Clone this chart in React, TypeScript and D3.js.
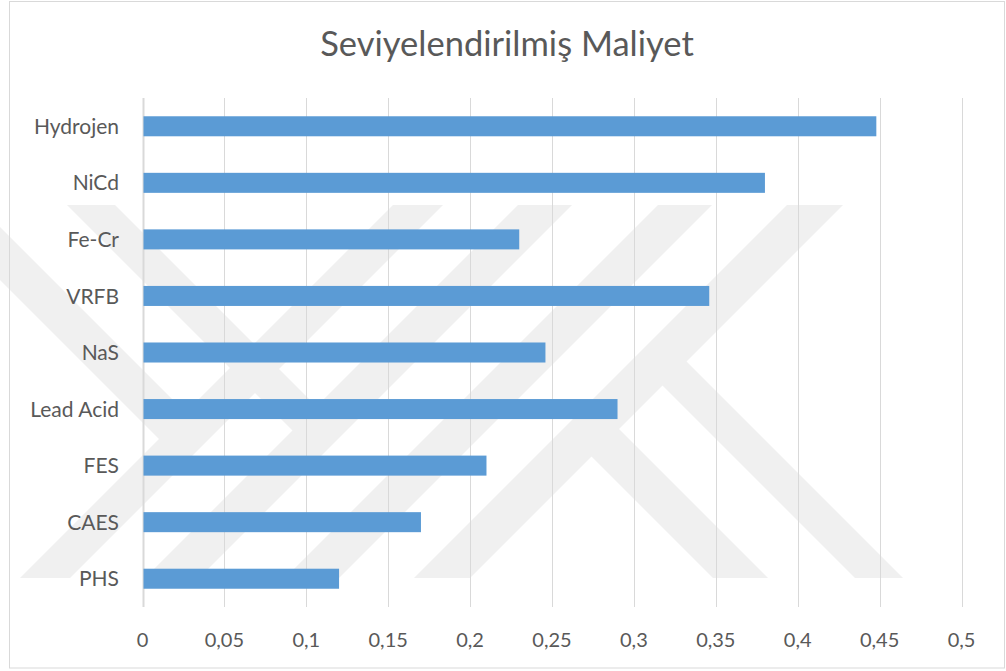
import React from "react";
import * as d3 from "d3";

const title = "Seviyelendirilmiş Maliyet";
const categories = ["Hydrojen", "NiCd", "Fe-Cr", "VRFB", "NaS", "Lead Acid", "FES", "CAES", "PHS"];
const values = [0.448, 0.38, 0.23, 0.346, 0.246, 0.29, 0.21, 0.17, 0.12];
const tickValues = [0, 0.05, 0.1, 0.15, 0.2, 0.25, 0.3, 0.35, 0.4, 0.45, 0.5];

// faint background watermark (diagonal bands): "/" bands as x+y ranges, "\" bands as x-y ranges with start/end (x+y)
const wmSlash: [number, number][] = [[598, 648], [723, 777], [863, 917], [992, 1048]];
const wmBack: { d: [number, number]; from: number; to: number }[] = [
  { d: [-280, -227], from: -1000, to: 623 },
  { d: [-138, -90], from: -1000, to: 750 },
  { d: [135, 190], from: 1020, to: 3000 },
  { d: [277, 325], from: 1020, to: 3000 },
];

const W = 1006;
const H = 671;
const FONT = "Lato, 'Open Sans', sans-serif";
const TEXT = "#595959";

export default function App() {
  const plot = { left: 142.5, right: 961.5, top: 98, bottom: 607 };
  const x = d3.scaleLinear().domain([0, 0.5]).range([plot.left, plot.right]);
  const y = d3
    .scaleBand<string>()
    .domain(categories)
    .range([plot.top, plot.bottom])
    .paddingInner(0.646)
    .paddingOuter(0.323);
  const fmt = d3
    .formatLocale({ decimal: ",", thousands: ".", grouping: [3], currency: ["", ""] })
    .format("~g");

  const wmTop = 205;
  const wmBottom = 578;
  const inter = (a: number, b: number) => [(a + b) / 2, (b - a) / 2];
  const slashPolys = wmSlash.map(([s1, s2]) =>
    [
      [s1 - wmTop + 400, wmTop - 400],
      [s2 - wmTop + 400, wmTop - 400],
      [s2 - wmBottom - 400, wmBottom + 400],
      [s1 - wmBottom - 400, wmBottom + 400],
    ]
  );
  const backPolys = wmBack.map(({ d, from, to }) => [
    inter(d[0], from),
    inter(d[1], from),
    inter(d[1], to),
    inter(d[0], to),
  ]);
  const line = (pts: number[][]) => "M" + pts.map((p) => p.join(",")).join("L") + "Z";

  return (
    <svg
      width={W}
      height={H}
      style={{ position: "absolute", left: 0, top: 0, background: "#fff" }}
      fontFamily={FONT}
    >
      <defs>
        <clipPath id="wmclip">
          <rect x={0} y={wmTop} width={W} height={wmBottom - wmTop} />
        </clipPath>
      </defs>
      <rect x={0} y={0} width={W} height={H} fill="#fff" />
      <g clipPath="url(#wmclip)" fill="#f0f0f0">
        {slashPolys.map((p, i) => (
          <path key={"s" + i} d={line(p)} />
        ))}
        {backPolys.map((p, i) => (
          <path key={"b" + i} d={line(p)} />
        ))}
      </g>
      <rect x={9.5} y={1.5} width={995} height={666.5} fill="none" stroke="#d9d9d9" strokeWidth={1} />
      <text x={507} y={56} textAnchor="middle" fontSize={34.5} fill={TEXT}>
        {title}
      </text>
      {tickValues.map((t) => (
        <line
          key={"g" + t}
          x1={Math.round(x(t)) + 0.5}
          x2={Math.round(x(t)) + 0.5}
          y1={plot.top}
          y2={plot.bottom}
          stroke="#d9d9d9"
          strokeWidth={t === 0 ? 2 : 1}
        />
      ))}
      {categories.map((c, i) => (
        <rect
          key={c}
          x={x(0) + 1}
          y={y(c)!}
          width={x(values[i]) - x(0) - 1}
          height={y.bandwidth()}
          fill="#5b9bd5"
        />
      ))}
      {categories.map((c) => (
        <text
          key={"l" + c}
          x={119}
          y={y(c)! + y.bandwidth() / 2}
          dy="0.36em"
          textAnchor="end"
          fontSize={21}
          fill={TEXT}
        >
          {c}
        </text>
      ))}
      {tickValues.map((t) => (
        <text key={"t" + t} x={x(t)} y={647} textAnchor="middle" fontSize={20} fill={TEXT}>
          {fmt(t)}
        </text>
      ))}
    </svg>
  );
}
